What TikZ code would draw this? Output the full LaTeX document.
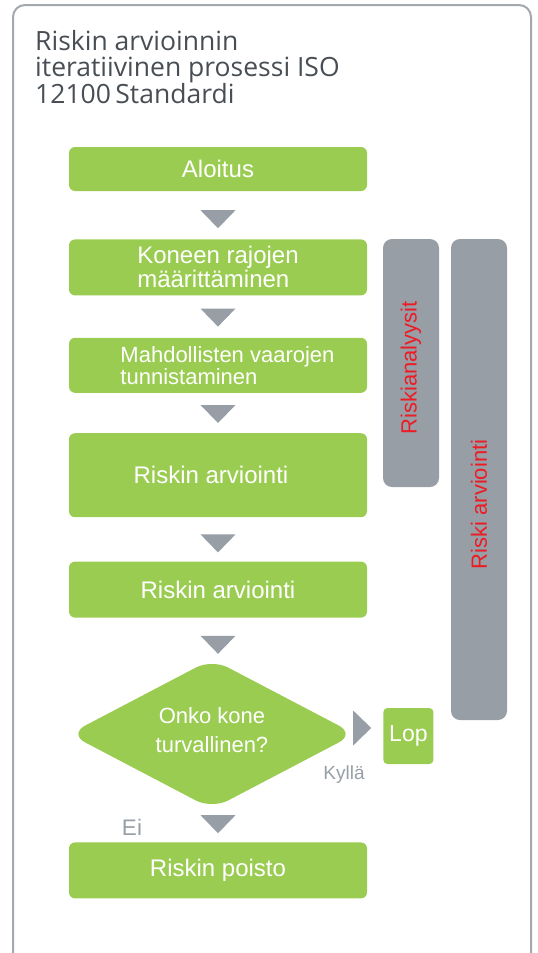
\documentclass[tikz,border=0pt]{standalone}
\usepackage{fontspec}
\setmainfont{Liberation Sans}
\newfontfamily\titlefont{Open Sans}
\usetikzlibrary{positioning, shapes.geometric}
\definecolor{boxgreen}{RGB}{155,204,82}
\definecolor{bargrey}{RGB}{151,158,166}
\definecolor{framegrey}{RGB}{162,168,174}
\definecolor{titlegrey}{RGB}{72,78,84}
\definecolor{barred}{RGB}{237,28,36}
% grey pointer between two steps, tip sits #3 above the lower one
\newcommand{\flowtip}[3]{\fill[tri] ([yshift=#3]#2.north -| #1.south) -- ++(-17.5,-18) -- ++(35,0) -- cycle;}

\begin{document}
\begin{tikzpicture}[x=1pt, y=-1pt]
    \tikzstyle{greenbox} = [fill=boxgreen, rounded corners=6pt, minimum width=298pt, inner sep=0pt, text=white, align=center, font=\fontsize{24}{24}\selectfont]
    \tikzstyle{decision} = [diamond, aspect=1.9, fill=boxgreen, rounded corners=18pt, minimum width=286pt, minimum height=150pt, inner sep=0pt, text depth=8pt, text=white, align=center, font=\fontsize{22}{29}\selectfont]
    \tikzstyle{bar} = [fill=bargrey, rounded corners=9pt, rotate=90, minimum height=56pt, inner sep=0pt, text=barred, font=\fontsize{22}{22}\selectfont]
    \tikzstyle{tri} = [fill=bargrey]
    \tikzstyle{answer} = [text=bargrey, inner sep=0pt]
    \useasboundingbox (0,0) rectangle (538,953);
    \draw[framegrey, line width=2pt, rounded corners=12pt] (13,970) -- (13,5) -- (531,5) -- (531,970);

    \node[anchor=north west, align=left, inner sep=0pt, text=titlegrey, font=\titlefont\fontsize{26.5}{26}\selectfont] (title) at (35,30) {Riskin arvioinnin\\iteratiivinen prosessi ISO\\12100\,Standardi};

    \node [greenbox, minimum height=44pt] at (218,169) (aloitus) {Aloitus};
    \node [greenbox, minimum height=56pt, align=left, below=48pt of aloitus] (rajat) {Koneen rajojen\\määrittäminen};
    \node [greenbox, minimum height=55pt, align=left, font=\fontsize{22}{22}\selectfont, below=42pt of rajat] (vaarat) {\hspace*{19pt}Mahdollisten vaarojen\\\hspace*{19pt}tunnistaminen};
    \node [greenbox, minimum height=84pt, below=40pt of vaarat] (arvio) {Riskin arviointi\hspace*{14pt}};
    \node [greenbox, minimum height=56pt, below=44pt of arvio] (arvio2) {Riskin arviointi};
    \node [decision, below=41pt of arvio2, xshift=-6pt] (paatos) {Onko kone\\turvallinen?};
    \node [greenbox, minimum height=56pt, below=33pt of paatos, xshift=6pt] (poisto) {Riskin poisto};
    \node [greenbox, minimum width=50pt, minimum height=56pt, rounded corners=4pt, font=\fontsize{23}{23}\selectfont, right=28pt of paatos, yshift=-2pt] (lop) {Lop};

    \node [bar, minimum width=248pt] at (411,363) (analyysi) {Riskianalyysit\hspace*{10pt}};
    \node [bar, minimum width=481pt] at (479,479.5) (kokonais) {Riski arviointi\hspace*{50pt}};

    \node [answer, font=\fontsize{19}{19}\selectfont] at (344,775) (kylla) {Kyllä};
    \node [answer, font=\fontsize{22.5}{22.5}\selectfont] at (132,827) (ei) {Ei};

    \flowtip{aloitus}{rajat}{11pt}
    \flowtip{rajat}{vaarat}{11pt}
    \flowtip{vaarat}{arvio}{10pt}
    \flowtip{arvio}{arvio2}{9pt}
    \flowtip{arvio2}{paatos}{5pt}
    \flowtip{poisto}{poisto}{9pt}
    \fill[tri] ([xshift=-12pt, yshift=8pt]lop.west) -- ++(-18,-17.5) -- ++(0,35) -- cycle;
\end{tikzpicture}
\end{document}
